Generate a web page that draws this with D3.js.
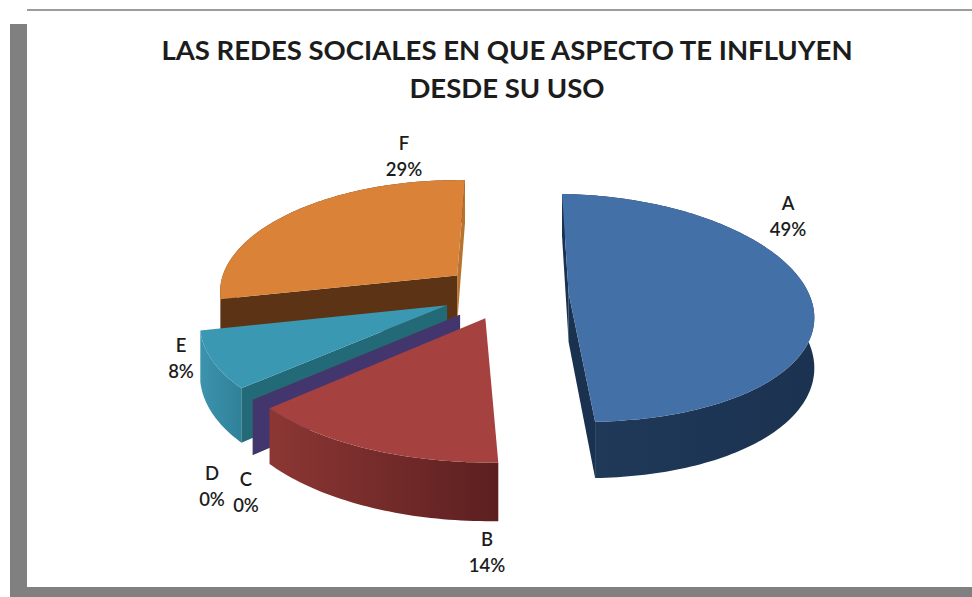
<!DOCTYPE html>
<html>
<head>
<meta charset="utf-8">
<style>
  html, body { margin: 0; padding: 0; background: #fff; }
  svg { display: block; }
  text { font-family: Lato, "Open Sans", sans-serif; fill: #1c1c1c; }
</style>
<script src="https://cdn.jsdelivr.net/npm/d3@7/dist/d3.min.js"></script>
</head>
<body>
<svg id="chart" width="972" height="597"></svg>
<script>
// Chart content
const titleLines = ["LAS REDES SOCIALES EN QUE ASPECTO TE INFLUYEN", "DESDE SU USO"];
const categories = ["A", "B", "C", "D", "E", "F"];
const values = [49, 14, 0, 0, 8, 29];

// Slice colours
const topColors = ["#4470a8", "#a54240", "#8aa64a", "#5c4a86", "#3a98b2", "#da8238"];
const cutColors = ["#1a3150", "#5a2020", "#4f6128", "#43366e", "#236a78", "#5c3314"];
const cutEndColors = ["#1a3150", "#5a2020", "#4f6128", "#43366e", "#236a78", "#b8742f"];
const rimStart = ["#203a5a", "#8c3734", "#4f6128", "#43366e", "#3d93ad", "#5c3314"];
const rimEnd = ["#1b3250", "#5c1f20", "#4f6128", "#43366e", "#2f8199", "#5c3314"];

// How far each slice is pulled out on the pie's ground plane, in radius units
const explodeU = [0.44, 0.09, -0.012, -0.012, -0.065, -0.025];
const explodeV = [0, 0.22, 0.19, 0.19, 0.107, -0.16];
const radiusScale = [1, 1.045, 1, 1, 1, 1];

// Label centres and the order slices are painted in, back to front
const labelX = [788, 487, 246, 212, 181, 404];
const labelBase = [210, 546, 486, 480, 352, 150];
const paintOrder = [5, 4, 2, 3, 1, 0];

const firstAngle = 2 * Math.PI / 180;
const view = { cx: 463, cy: 293, rx: 240, ry: 112, depth: 49, perspX: 0.15, perspY: 0.13 };

const svg = d3.select("#chart");
const defs = svg.append("defs");

// Frame: drop shadow bands on the left and bottom, thin rule on top
svg.append("rect").attr("x", 10).attr("y", 24).attr("width", 17).attr("height", 573).attr("fill", "#808080");
svg.append("rect").attr("x", 10).attr("y", 587).attr("width", 962).attr("height", 10).attr("fill", "#808080");
svg.append("rect").attr("x", 27).attr("y", 9).attr("width", 945).attr("height", 2).attr("fill", "#9c9c9c");

// Ground-plane position (radius units) plus height to screen, with perspective
const scaleX = d3.scaleLinear().domain([0, 1]).range([view.cx, view.cx + view.rx]);
const scaleY = d3.scaleLinear().domain([0, 1]).range([view.cy, view.cy + view.ry]);
function project(i, angle, r, z) {
  const u = explodeU[i] + r * radiusScale[i] * Math.sin(angle);
  const v = explodeV[i] - r * radiusScale[i] * Math.cos(angle);
  const fx = 1 / (1 - view.perspX * v);
  const fy = 1 / (1 - view.perspY * v);
  return [scaleX(u * fx), scaleY(v * fy) - z * view.depth * fy];
}

const line = d3.line();
const pie = d3.pie().sort(null).startAngle(firstAngle).endAngle(firstAngle + 2 * Math.PI);
const arcs = pie(values);

function arcAngles(a) {
  const steps = Math.max(1, Math.ceil((a.endAngle - a.startAngle) / 0.02));
  return d3.range(steps + 1).map(k => a.startAngle + (a.endAngle - a.startAngle) * k / steps);
}

paintOrder.forEach(i => {
  const a = arcs[i];
  const g = svg.append("g").attr("class", "slice-" + categories[i]);
  const angles = arcAngles(a);
  const hasArea = a.endAngle - a.startAngle > 0;
  const upper = angles.map(t => project(i, t, 1, 0));

  // Rim, shaded sideways
  if (hasArea) {
    const id = "rim-" + categories[i];
    const grad = defs.append("linearGradient").attr("id", id);
    grad.append("stop").attr("offset", "0%").attr("stop-color", rimStart[i]);
    grad.append("stop").attr("offset", "100%").attr("stop-color", rimEnd[i]);
    const lower = angles.map(t => project(i, t, 1, -1)).reverse();
    g.append("path").attr("d", line(upper.concat(lower)) + "Z").attr("fill", `url(#${id})`);
  }

  // Cut faces from the centre to the rim; only those turned towards the viewer are drawn
  [[a.startAngle, cutColors[i], 1], [a.endAngle, cutEndColors[i], -1]].forEach(([t, color, facing]) => {
    const face = [project(i, t, 0, 0), project(i, t, 1, 0), project(i, t, 1, -1), project(i, t, 0, -1)];
    if (d3.polygonArea(face) * facing > 0) {
      g.append("path").attr("d", line(face) + "Z").attr("fill", color);
    }
  });

  // Top surface
  if (hasArea) {
    const topPts = [project(i, 0, 0, 0)].concat(upper);
    g.append("path").attr("d", line(topPts) + "Z").attr("fill", topColors[i]);
  }
});

// Title
svg.append("g").selectAll("text").data(titleLines).join("text")
  .attr("x", 507)
  .attr("y", (d, k) => 60 + k * 38)
  .attr("text-anchor", "middle")
  .attr("font-size", 27.5)
  .attr("font-weight", 700)
  .text(d => d);

// Category and percentage labels
const labels = svg.append("g").selectAll("g").data(categories).join("g");
labels.append("text")
  .attr("x", (d, i) => labelX[i]).attr("y", (d, i) => labelBase[i])
  .attr("text-anchor", "middle").attr("font-size", 18.5).attr("font-weight", 600)
  .text(d => d);
labels.append("text")
  .attr("x", (d, i) => labelX[i]).attr("y", (d, i) => labelBase[i] + 25.5)
  .attr("text-anchor", "middle").attr("font-size", 18.5).attr("font-weight", 600)
  .text((d, i) => values[i] + "%");
</script>
</body>
</html>
